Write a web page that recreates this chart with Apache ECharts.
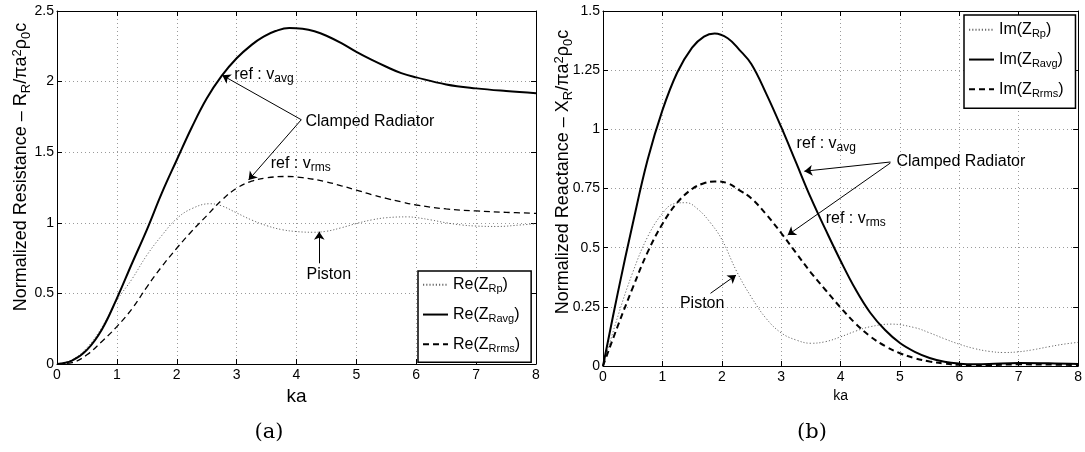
<!DOCTYPE html>
<html>
<head>
<meta charset="UTF-8">
<title>Normalized radiation impedance: piston vs clamped radiator</title>
<script src="https://cdn.jsdelivr.net/npm/echarts@6/dist/echarts.min.js"></script>
<style>
  html, body { margin: 0; padding: 0; background: #fff; }
  #chart { width: 1085px; height: 452px; }
</style>
</head>
<body>
<div id="chart"></div>
<script>
  var kaReP  = [0, 0.25, 0.5, 0.75, 1, 1.25, 1.5, 1.75, 2, 2.25, 2.55, 2.75, 3, 3.25, 3.5, 3.75, 4, 4.27,
                4.5, 4.75, 5, 5.25, 5.5, 5.85, 6, 6.25, 6.5, 6.75, 7, 7.35, 7.75, 8];
  var reP    = [0, 0.03, 0.115, 0.26, 0.45, 0.6, 0.77, 0.91, 1.03, 1.10, 1.135, 1.12, 1.07, 1.02, 0.98, 0.952, 0.938, 0.933,
                0.94, 0.965, 0.995, 1.02, 1.036, 1.042, 1.037, 1.02, 1.0, 0.985, 0.977, 0.974, 0.985, 0.993];

  var kaReAvg = [0, 0.25, 0.5, 0.75, 1, 1.25, 1.5, 1.75, 2, 2.25, 2.5, 2.75, 3, 3.25, 3.45, 3.65, 3.88,
                 4.1, 4.3, 4.5, 4.75, 5, 5.25, 5.5, 5.75, 6, 6.5, 7, 7.5, 8];
  var reAvg   = [0, 0.024, 0.10, 0.245, 0.465, 0.71, 0.95, 1.21, 1.445, 1.675, 1.88, 2.04, 2.165, 2.26, 2.318, 2.358, 2.38,
                 2.374, 2.356, 2.325, 2.272, 2.21, 2.155, 2.105, 2.06, 2.03, 1.98, 1.952, 1.933, 1.918];

  var kaReRms = [0, 0.25, 0.5, 0.75, 1, 1.25, 1.5, 1.75, 2, 2.25, 2.5, 2.75, 3, 3.25, 3.5, 3.8,
                 4.1, 4.5, 4.75, 5, 5.25, 5.5, 5.75, 6, 6.5, 7, 7.5, 8];
  var reRms   = [0, 0.01, 0.065, 0.16, 0.265, 0.39, 0.545, 0.69, 0.82, 0.94, 1.05, 1.16, 1.245, 1.295, 1.318, 1.328,
                 1.32, 1.29, 1.262, 1.232, 1.20, 1.173, 1.148, 1.126, 1.098, 1.084, 1.074, 1.067];

  // ---- (b) imaginary part (reactance) ----
  var kaImP = [0, 0.25, 0.5, 0.75, 1, 1.2, 1.4, 1.6, 1.8, 2, 2.25, 2.5, 2.75, 3, 3.25, 3.5, 3.75, 4, 4.25,
               4.5, 4.85, 5.25, 5.5, 5.75, 6, 6.25, 6.5, 6.75, 7, 7.25, 7.5, 7.75, 8];
  var imP   = [0, 0.21, 0.395, 0.545, 0.645, 0.686, 0.69, 0.662, 0.608, 0.535, 0.40, 0.29, 0.2, 0.14, 0.11, 0.096, 0.103, 0.123, 0.147,
               0.166, 0.177, 0.162, 0.14, 0.115, 0.092, 0.074, 0.062, 0.057, 0.06, 0.069, 0.081, 0.092, 0.1];

  var kaImAvg = [0, 0.25, 0.5, 0.75, 1, 1.25, 1.5, 1.7, 1.88, 2.1, 2.3, 2.5, 2.75, 3, 3.25, 3.5, 3.75, 4,
                 4.25, 4.5, 4.75, 5, 5.25, 5.5, 5.75, 6, 6.25, 6.5, 7, 7.5, 8];
  var imAvg   = [0, 0.31, 0.6, 0.87, 1.08, 1.24, 1.345, 1.392, 1.405, 1.385, 1.335, 1.275, 1.15, 1.01, 0.86, 0.71, 0.575, 0.445,
                 0.325, 0.225, 0.152, 0.097, 0.06, 0.034, 0.018, 0.01, 0.007, 0.008, 0.013, 0.012, 0.008];

  var kaImRms = [0, 0.25, 0.5, 0.75, 1, 1.25, 1.5, 1.7, 1.88, 2.1, 2.3, 2.5, 2.75, 3, 3.25, 3.5, 3.75, 4,
                 4.25, 4.5, 4.75, 5, 5.25, 5.5, 5.75, 6, 6.25, 6.5, 7, 7.5, 8];
  var imRms   = [0, 0.17, 0.33, 0.48, 0.60, 0.69, 0.748, 0.772, 0.78, 0.772, 0.742, 0.708, 0.64, 0.562, 0.478, 0.395, 0.32, 0.247,
                 0.18, 0.125, 0.084, 0.054, 0.033, 0.019, 0.01, 0.005, 0.004, 0.004, 0.007, 0.006, 0.004];

  var FONT = '"Liberation Sans", Arial, Helvetica, sans-serif';

  // rich text styles: n = normal, s = subscript, p = superscript
  function richSet(size, sub, lh) {
    lh = lh || 20;
    return {
      n: { fontSize: size, lineHeight: lh, fontFamily: FONT, color: '#000', verticalAlign: 'middle' },
      s: { fontSize: sub, lineHeight: 3, fontFamily: FONT, color: '#000', verticalAlign: 'bottom' },
      p: { fontSize: sub, lineHeight: lh - 14, fontFamily: FONT, color: '#000', verticalAlign: 'top' }
    };
  }

  var legendText = {
    reP:   '{n|Re(Z}{s|Rp}{n|)}',
    reAvg: '{n|Re(Z}{s|Ravg}{n|)}',
    reRms: '{n|Re(Z}{s|Rrms}{n|)}',
    imP:   '{n|Im(Z}{s|Rp}{n|)}',
    imAvg: '{n|Im(Z}{s|Ravg}{n|)}',
    imRms: '{n|Im(Z}{s|Rrms}{n|)}'
  };

  var dotted = { color: '#6a6a6a', width: 1, type: [1.2, 2] };
  var solid  = { color: '#000', width: 2, type: 'solid' };

  function lineSeries(name, xs, ys, gi, style) {
    return {
      name: name,
      type: 'line',
      xAxisIndex: gi * 2,
      yAxisIndex: gi * 2,
      data: xs.map(function (k, i) { return [k, ys[i]]; }),
      symbol: 'none',
      showSymbol: false,
      smooth: 0.4,
      lineStyle: style,
      itemStyle: { color: style.color },
      silent: true
    };
  }

  // arrows of the annotations, in data coordinates [from, to]
  var arrowsA = [
    [[4.08, 1.73], [2.76, 2.045]],
    [[4.08, 1.73], [3.2, 1.303]],
    [[4.38, 0.713], [4.38, 0.937]]
  ];
  var arrowsB = [
    [[4.84, 0.862], [3.39, 0.823]],
    [[4.84, 0.858], [3.11, 0.553]],
    [[1.81, 0.307], [2.24, 0.384]]
  ];

  function arrowMarks(list) {
    return {
      silent: true,
      animation: false,
      symbol: ['none', 'arrow'],
      symbolSize: 8,
      label: { show: false },
      lineStyle: { color: '#000', width: 1, type: 'solid' },
      data: list.map(function (a) { return [{ coord: a[0] }, { coord: a[1] }]; })
    };
  }

  // text notes, in data coordinates
  var notes = [
    { g: 0, at: [4.15, 1.72],  text: '{n|Clamped Radiator}', align: 'left' },
    { g: 0, at: [2.96, 2.047], text: '{n|ref : v}{s|avg}',   align: 'left' },
    { g: 0, at: [3.57, 1.42],  text: '{n|ref : v}{s|rms}',   align: 'left' },
    { g: 0, at: [4.54, 0.63],  text: '{n|Piston}',           align: 'center' },
    { g: 1, at: [4.94, 0.862], text: '{n|Clamped Radiator}', align: 'left' },
    { g: 1, at: [3.26, 0.94],  text: '{n|ref : v}{s|avg}',   align: 'left' },
    { g: 1, at: [3.75, 0.624], text: '{n|ref : v}{s|rms}',   align: 'left' },
    { g: 1, at: [1.67, 0.265], text: '{n|Piston}',           align: 'center' }
  ];

  function xAxes(gi, nameSize, nameGap) {
    var base = {
      gridIndex: gi, type: 'value', min: 0, max: 8, interval: 1,
      axisLine: { show: true, onZero: false, lineStyle: { color: '#000', width: 1 } },
      axisTick: { show: true, inside: true, length: 5, lineStyle: { color: '#000' } }
    };
    return [
      Object.assign({}, base, {
        position: 'bottom',
        name: 'ka', nameLocation: 'middle', nameGap: nameGap,
        nameTextStyle: { fontSize: nameSize, fontFamily: FONT, color: '#000' },
        axisLabel: { color: '#000', fontSize: 14, fontFamily: FONT, margin: 4 },
        splitLine: { show: true, lineStyle: { color: '#9a9a9a', width: 1, type: [1, 3] } }
      }),
      Object.assign({}, base, {
        position: 'top', axisLabel: { show: false }, splitLine: { show: false }
      })
    ];
  }

  function yAxes(gi, max, step) {
    var base = {
      gridIndex: gi, type: 'value', min: 0, max: max, interval: step,
      axisLine: { show: true, onZero: false, lineStyle: { color: '#000', width: 1 } },
      axisTick: { show: true, inside: true, length: 5, lineStyle: { color: '#000' } }
    };
    return [
      Object.assign({}, base, {
        position: 'left',
        axisLabel: { color: '#000', fontSize: 14, fontFamily: FONT, margin: 3 },
        splitLine: { show: true, lineStyle: { color: '#9a9a9a', width: 1, type: [1, 3] } }
      }),
      Object.assign({}, base, {
        position: 'right', axisLabel: { show: false }, splitLine: { show: false }
      })
    ];
  }

  function legendBox(names, left, top, pad) {
    return {
      data: names,
      orient: 'vertical',
      left: left, top: top,
      itemWidth: 25, itemHeight: 14, itemGap: 11.8,
      padding: pad,
      borderColor: '#000', borderWidth: 1.5,
      backgroundColor: '#fff',
      selectedMode: false,
      itemStyle: { opacity: 0 },
      formatter: function (n) { return legendText[n]; },
      textStyle: { rich: richSet(16, 11) }
    };
  }

  var chart = echarts.init(document.getElementById('chart'));

  var seriesA = [
    lineSeries('reP', kaReP, reP, 0, dotted),
    lineSeries('reAvg', kaReAvg, reAvg, 0, solid),
    lineSeries('reRms', kaReRms, reRms, 0, { color: '#000', width: 1.3, type: [6, 4] })
  ];
  var seriesB = [
    lineSeries('imP', kaImP, imP, 1, dotted),
    lineSeries('imAvg', kaImAvg, imAvg, 1, solid),
    lineSeries('imRms', kaImRms, imRms, 1, { color: '#000', width: 2, type: [6, 4] })
  ];
  seriesA[1].markLine = arrowMarks(arrowsA);
  seriesB[1].markLine = arrowMarks(arrowsB);

  chart.setOption({
    animation: false,
    backgroundColor: '#fff',
    textStyle: { fontFamily: FONT },
    grid: [
      { left: 57, top: 11, width: 479, height: 353 },
      { left: 603, top: 11, width: 477, height: 355 }
    ],
    xAxis: xAxes(0, 19, 19).concat(xAxes(1, 14, 20)),
    yAxis: yAxes(0, 2.5, 0.5).concat(yAxes(1, 1.5, 0.25)),
    legend: [
      legendBox(['reP', 'reAvg', 'reRms'], 418, 271, [5.75, 11, 8, 4]),
      legendBox(['imP', 'imAvg', 'imRms'], 964, 15, [6.75, 12, 9, 4])
    ],
    series: seriesA.concat(seriesB)
  });

  // text elements: notes, rotated y-axis titles, panel captions
  var graphics = notes.map(function (nt) {
    var p = chart.convertToPixel({ gridIndex: nt.g }, nt.at);
    return {
      type: 'text', x: p[0], y: p[1], z: 50, silent: true,
      style: { text: nt.text, rich: richSet(16, 12), align: nt.align, verticalAlign: 'middle' }
    };
  });

  graphics.push({
    type: 'text', x: 21.5, y: 167, rotation: Math.PI / 2, silent: true,
    style: {
      text: '{n|Normalized Resistance – R}{s|R}{n|/πa}{p|2}{n|ρ}{s|0}{n|c}',
      rich: richSet(18, 13, 22), align: 'center', verticalAlign: 'middle'
    }
  });
  graphics.push({
    type: 'text', x: 563.5, y: 172, rotation: Math.PI / 2, silent: true,
    style: {
      text: '{n|Normalized Reactance – X}{s|R}{n|/πa}{p|2}{n|ρ}{s|0}{n|c}',
      rich: richSet(18, 13, 22), align: 'center', verticalAlign: 'middle'
    }
  });
  graphics.push({
    type: 'text', x: 269, y: 433, silent: true,
    style: { text: '(a)', font: '21px "DejaVu Serif", serif', fill: '#000', align: 'center', verticalAlign: 'middle' }
  });
  graphics.push({
    type: 'text', x: 812, y: 433, silent: true,
    style: { text: '(b)', font: '21px "DejaVu Serif", serif', fill: '#000', align: 'center', verticalAlign: 'middle' }
  });

  chart.setOption({ graphic: graphics });
</script>
</body>
</html>
